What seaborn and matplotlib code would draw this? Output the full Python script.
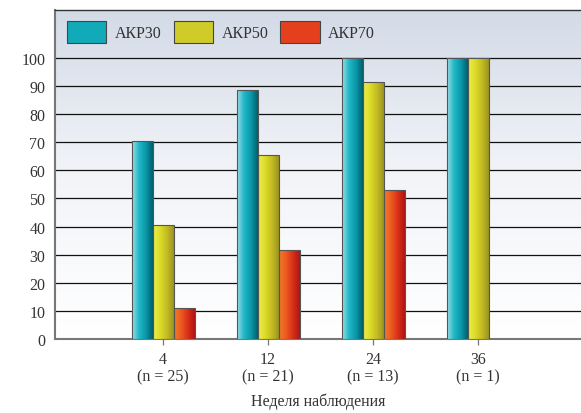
import numpy as np
import pandas as pd
import matplotlib
matplotlib.use("Agg")
import matplotlib.pyplot as plt
from matplotlib.colors import LinearSegmentedColormap
from matplotlib.patches import Patch
import seaborn as sns

weeks = ["4\n(n = 25)", "12\n(n = 21)", "24\n(n = 13)", "36\n(n = 1)"]
series = ["АКР30", "АКР50", "АКР70"]
akr30 = [70.5, 88.5, 100, 100]
akr50 = [40.5, 65.5, 91.5, 100]
akr70 = [11, 31.5, 53, np.nan]
yticks = [0, 10, 20, 30, 40, 50, 60, 70, 80, 90, 100]
xlabel = "Неделя наблюдения"

df = pd.DataFrame({
    "week": weeks * 3,
    "series": [series[0]] * 4 + [series[1]] * 4 + [series[2]] * 4,
    "value": akr30 + akr50 + akr70,
})

sns.set_theme(style="white")
plt.rcParams["font.family"] = ["Liberation Serif", "DejaVu Serif"]

FS = 11.5
fig = plt.figure(figsize=(5.81, 4.14), dpi=100)
ax = fig.add_axes([55 / 581, 1 - 340 / 414, 1 - 55 / 581, (340 - 11) / 414])

mid_cols = ["#12a9b8", "#cfcc2a", "#e4401e"]
grads = [
    ["#9adbe4", "#20b8c8", "#0a98a8", "#00606e"],
    ["#eeee50", "#dcdc28", "#c4bc24", "#9c9420"],
    ["#f47a26", "#ec5a20", "#d8301a", "#b01414"],
]

sns.barplot(data=df, x="week", y="value", hue="series", palette=mid_cols,
            width=0.6, dodge=True, ax=ax, edgecolor="#555555", linewidth=0.8,
            saturation=1, legend=False, zorder=3)

XL = (-1.03, 3.98)
YL = (0, 117)

bg = LinearSegmentedColormap.from_list("bg", ["#ffffff", "#f2f4f8", "#d3dbe7"])
ax.imshow(np.linspace(0, 1, 256).reshape(-1, 1), aspect="auto", cmap=bg,
          origin="lower", extent=(XL[0], XL[1], YL[0], YL[1]), zorder=0)

for i, cont in enumerate(ax.containers):
    cmap = LinearSegmentedColormap.from_list(f"g{i}", grads[i])
    for p in cont.patches:
        h = p.get_height()
        if not np.isfinite(h) or h <= 0:
            continue
        x0 = p.get_x()
        w = p.get_width()
        im = ax.imshow(np.linspace(0, 1, 64).reshape(1, -1), aspect="auto", cmap=cmap,
                       extent=(x0, x0 + w, 0, h), zorder=3.5)
        im.set_clip_path(p)
        p.set_facecolor("none")
        p.set_zorder(4)

ax.set_xlim(*XL)
ax.set_ylim(*YL)

ax.set_yticks(yticks)
for y in yticks[1:]:
    ax.axhline(y, color="#111111", lw=0.9, zorder=2)

ax.tick_params(axis="y", length=0, labelsize=FS, labelcolor="#333333", pad=7)
ax.tick_params(axis="x", length=4, width=0.9, color="#777777", bottom=True,
               labelsize=FS, labelcolor="#333333", pad=5)
for t in ax.get_xticklabels():
    t.set_linespacing(1.05)
ax.set_xlabel(xlabel, fontsize=FS, color="#333333", labelpad=6)
ax.set_ylabel("")

ax.spines["left"].set_color("#777777")
ax.spines["left"].set_linewidth(1.5)
ax.spines["bottom"].set_color("#777777")
ax.spines["bottom"].set_linewidth(1.5)
ax.spines["top"].set_color("#333333")
ax.spines["top"].set_linewidth(1.0)
ax.spines["right"].set_visible(False)

handles = [Patch(facecolor=c, edgecolor="#444444", linewidth=0.8) for c in mid_cols]
leg = ax.legend(handles, series, ncol=3, loc="upper left",
                bbox_to_anchor=((67 - 55) / 526, (340 - 22) / 329),
                frameon=False, fontsize=FS, handlelength=2.45, handleheight=1.7,
                handletextpad=0.55, columnspacing=0.75, labelcolor="#333333",
                borderpad=0, borderaxespad=0)
leg.set_zorder(6)

fig.savefig("out.png", dpi=100)
